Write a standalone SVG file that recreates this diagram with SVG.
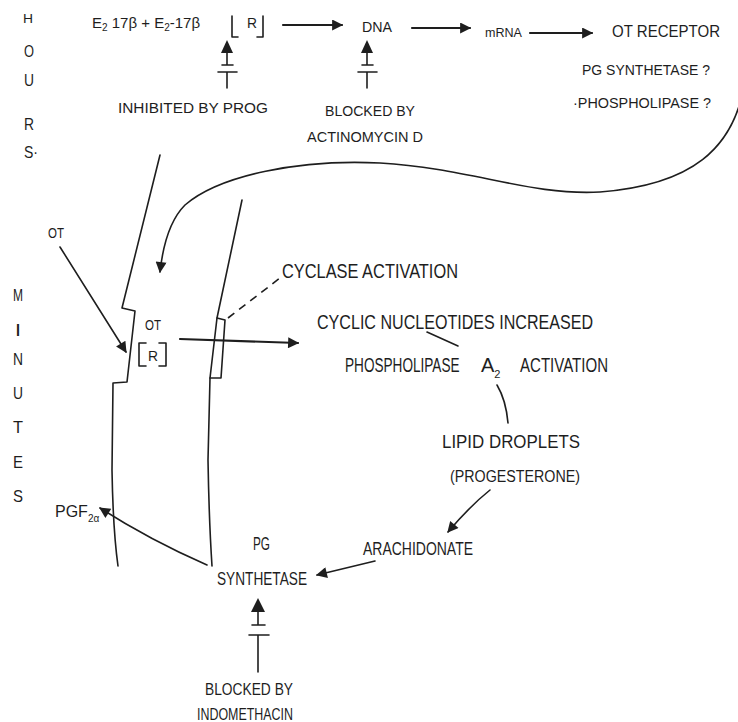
<svg xmlns="http://www.w3.org/2000/svg" width="738" height="722" viewBox="0 0 738 722">
<style>
text{font-family:"Liberation Sans",Arial,sans-serif;fill:#1e1e1e}
.ln{fill:none;stroke:#1e1e1e;stroke-width:1.6;stroke-linecap:round;stroke-linejoin:round}
.th{fill:none;stroke:#1e1e1e;stroke-width:2.2;stroke-linecap:round}
.dash{fill:none;stroke:#1e1e1e;stroke-width:1.6;stroke-dasharray:8 6}
</style>
<defs>
<marker id="ahL" viewBox="0 0 10 10" refX="9" refY="5" markerWidth="16" markerHeight="11" markerUnits="userSpaceOnUse" orient="auto">
<path d="M0,0 L10,5 L0,10 Z" fill="#1e1e1e"/>
</marker>
<g id="inhib">
<path d="M0,0 L-6,13 L6,13 Z" fill="#1e1e1e"/>
<path class="ln" d="M0,13 V25 M-5,25 H6 M-9,32 H10 M0,32 V48"/>
</g>
<g id="inhib2">
<path d="M0,0 L-7,14 L7,14 Z" fill="#1e1e1e"/>
<path class="ln" d="M0,14 V27 M-6,27 H7 M-9,37 H11 M0,37 V74"/>
</g>
</defs>
<rect width="738" height="722" fill="#ffffff"/>

<g id="axis-labels">
<text x="23" y="23" font-size="12" textLength="10" lengthAdjust="spacingAndGlyphs">H</text>
<text x="24" y="57" font-size="17" textLength="10" lengthAdjust="spacingAndGlyphs">O</text>
<text x="24" y="86" font-size="17" textLength="10" lengthAdjust="spacingAndGlyphs">U</text>
<text x="24" y="130" font-size="17" textLength="10" lengthAdjust="spacingAndGlyphs">R</text>
<text x="24" y="158" font-size="17" textLength="14" lengthAdjust="spacingAndGlyphs">S·</text>
<text x="13" y="301" font-size="17" textLength="10" lengthAdjust="spacingAndGlyphs">M</text>
<text x="15" y="336" font-size="17" textLength="6" lengthAdjust="spacingAndGlyphs">I</text>
<text x="13" y="365" font-size="17" textLength="10" lengthAdjust="spacingAndGlyphs">N</text>
<text x="13" y="399" font-size="17" textLength="10" lengthAdjust="spacingAndGlyphs">U</text>
<text x="13" y="433" font-size="17" textLength="10" lengthAdjust="spacingAndGlyphs">T</text>
<text x="13" y="468" font-size="17" textLength="10" lengthAdjust="spacingAndGlyphs">E</text>
<text x="13" y="502" font-size="17" textLength="10" lengthAdjust="spacingAndGlyphs">S</text>
</g>

<g id="estradiol">
<text x="92" y="28" font-size="15">E<tspan font-size="10" dy="3">2</tspan><tspan dy="-3"> 17β + E</tspan><tspan font-size="10" dy="3">2</tspan><tspan dy="-3">-17β</tspan></text>
<path class="ln" d="M238,37 H232 V16 M257,37 H263 V16"/>
<text x="247" y="28" font-size="14" textLength="10" lengthAdjust="spacingAndGlyphs">R</text>
</g>
<g id="dna"><text x="362" y="32" font-size="14" textLength="30" lengthAdjust="spacingAndGlyphs">DNA</text></g>
<g id="mrna"><text x="485" y="37" font-size="13" textLength="37" lengthAdjust="spacingAndGlyphs">mRNA</text></g>
<g id="ot-receptor">
<text x="612" y="37" font-size="17" textLength="108" lengthAdjust="spacingAndGlyphs">OT   RECEPTOR</text>
<text x="582" y="75" font-size="14" textLength="128" lengthAdjust="spacingAndGlyphs">PG SYNTHETASE ?</text>
<text x="573" y="108" font-size="14" textLength="138" lengthAdjust="spacingAndGlyphs">·PHOSPHOLIPASE ?</text>
</g>
<g id="inhibited-prog">
<use href="#inhib" x="227" y="40"/>
<text x="118" y="113" font-size="15" textLength="150" lengthAdjust="spacingAndGlyphs">INHIBITED BY PROG</text>
</g>
<g id="blocked-actinomycin">
<use href="#inhib" x="367" y="40"/>
<text x="325" y="116" font-size="14" textLength="90" lengthAdjust="spacingAndGlyphs">BLOCKED BY</text>
<text x="307" y="142" font-size="14" textLength="116" lengthAdjust="spacingAndGlyphs">ACTINOMYCIN D</text>
</g>

<g id="membranes">
<path class="ln" d="M160,155 L122,308 L135,311 L127,382 L113,383 L112,470 Q113,530 118,566"/>
<path class="ln" d="M242,200 L217,318 L210,378 L208,460 Q209,520 212,566"/>
<path class="ln" d="M217,318 L225,320 L221,378 L210,378"/>
</g>

<g id="ot-outer"><text x="48" y="238" font-size="15" textLength="16" lengthAdjust="spacingAndGlyphs">OT</text></g>
<g id="ot-receptor-cell">
<text x="145" y="330" font-size="15" textLength="16" lengthAdjust="spacingAndGlyphs">OT</text>
<path class="ln" d="M146,343 H139 V366 H146 M159,343 H166 V366 H159"/>
<text x="148" y="361" font-size="14" textLength="10" lengthAdjust="spacingAndGlyphs">R</text>
</g>
<g id="cyclase"><text x="282" y="278" font-size="20" textLength="176" lengthAdjust="spacingAndGlyphs">CYCLASE  ACTIVATION</text></g>
<g id="cyclic"><text x="317" y="329" font-size="21" textLength="276" lengthAdjust="spacingAndGlyphs">CYCLIC  NUCLEOTIDES  INCREASED</text></g>
<g id="phospholipase">
<text transform="translate(345,372) scale(0.68,1)" font-size="20">PHOSPHOLIPASE</text>
<text x="481" y="372" font-size="20">A<tspan font-size="11" dy="6">2</tspan></text>
<text x="520" y="372" font-size="20" textLength="88" lengthAdjust="spacingAndGlyphs">ACTIVATION</text>
</g>
<g id="lipid">
<text x="442" y="448" font-size="19" textLength="138" lengthAdjust="spacingAndGlyphs">LIPID  DROPLETS</text>
<text x="450" y="482" font-size="16" textLength="130" lengthAdjust="spacingAndGlyphs">(PROGESTERONE)</text>
</g>
<g id="arachidonate"><text x="363" y="555" font-size="18" textLength="110" lengthAdjust="spacingAndGlyphs">ARACHIDONATE</text></g>
<g id="pg-synthetase">
<text x="253" y="550" font-size="18" textLength="17" lengthAdjust="spacingAndGlyphs">PG</text>
<text x="217" y="585" font-size="19" textLength="90" lengthAdjust="spacingAndGlyphs">SYNTHETASE</text>
<use href="#inhib2" x="258" y="598"/>
<text x="205" y="695" font-size="17" textLength="88" lengthAdjust="spacingAndGlyphs">BLOCKED BY</text>
<text x="197" y="720" font-size="16" textLength="96" lengthAdjust="spacingAndGlyphs">INDOMETHACIN</text>
</g>
<g id="pgf">
<text x="55" y="517" font-size="16">PGF<tspan font-size="10" dy="5">2α</tspan></text>
</g>

<g id="connectors">
<path class="th" d="M283,25 H342" marker-end="url(#ahL)"/>
<path class="th" d="M412,28 H470" marker-end="url(#ahL)"/>
<path class="th" d="M530,33 H592" marker-end="url(#ahL)"/>
<path class="ln" d="M745,80 C735,150 690,185 600,192 C530,196 470,168 380,163 C300,159 220,175 185,205 C170,220 163,245 160,272" marker-end="url(#ahL)"/>
<path class="ln" d="M60,247 L126,352" marker-end="url(#ahL)"/>
<path class="dash" d="M228,318 L280,278"/>
<path class="th" d="M180,339 L298,343" marker-end="url(#ahL)"/>
<path class="ln" d="M427,332 L458,346"/>
<path class="ln" d="M497,385 Q506,400 508,423"/>
<path class="ln" d="M490,490 Q470,506 448,532" marker-end="url(#ahL)"/>
<path class="ln" d="M375,561 L317,575" marker-end="url(#ahL)"/>
<path class="ln" d="M207,565 Q150,540 100,508" marker-end="url(#ahL)"/>
</g>
</svg>
